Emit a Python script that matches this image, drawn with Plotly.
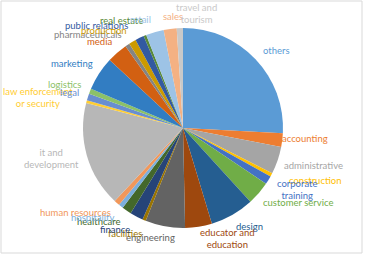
import math
import plotly.graph_objects as go

# ---- data ----
categories = ["others", "accounting", "administrative", "construction", "corporate training",
              "customer service", "design", "educator and education", "engineering", "facilities",
              "finance", "healthcare", "hospitality", "human resources", "it and development",
              "law enforcement or security", "legal", "logistics", "marketing", "media",
              "pharmaceuticals", "production", "public relations", "real estate", "retail",
              "sales", "travel and tourism"]
values = [93, 8, 16, 2, 5, 13.7, 25.6, 15.6, 23.1, 2, 7.7, 5.5, 2.7, 3.3, 61.5,
          1.5, 4, 3, 19.8, 12.1, 2.6, 4.2, 5.1, 1.6, 10.4, 7.6, 3.6]
label_text = ["others", "accounting", "administrative", "construction", "corporate<br>training",
              "customer service", "design", "educator and<br>education", "engineering", "facilities",
              "finance", "healthcare", "hospitality", "human resources", "it and<br>development",
              "law enforcement<br>or security", "legal", "logistics", "marketing", "media",
              "pharmaceuticals", "production", "public relations", "real estate", "retail",
              "sales", "travel and<br>tourism"]

# ---- style ----
colors = ["#5B9BD5", "#ED7D31", "#A5A5A5", "#FFC000", "#4472C4", "#70AD47", "#255E91",
          "#9E480E", "#636363", "#997300", "#264478", "#43682B", "#7CAFDD", "#F1975A",
          "#B7B7B7", "#FFCD33", "#698ED0", "#8CC168", "#327DC2", "#D26012", "#848484",
          "#CC9A00", "#335AA1", "#5A8A39", "#9DC3E6", "#F4B183", "#C9C9C9"]
# label placement: angle (deg clockwise from top) and distance from centre (px)
label_angle = [50.3, 94.7, 105.9, 111.5, 118.2, 122.8, 145.9, 158.2, 196.7, 208.9,
               213.7, 221.8, 225.6, 231.8, 257.1, 281.7, 287.5, 290.4, 300, 315.7,
               314.7, 321.1, 320.1, 330.3, 338.9, 354.9, 6.9]
label_dist = [122.1, 122.4, 135.2, 141.9, 129.3, 136.8, 119.5, 118.5, 114.8, 120,
              122.6, 126, 127.3, 137.4, 134.4, 148, 119.5, 126, 128.1, 120.2,
              133.6, 125.9, 134.2, 123.2, 116.8, 112.4, 115.8]

W, H = 366, 256
CX, CY, R = 183, 128, 100

fig = go.Figure(go.Pie(
    labels=categories, values=values, sort=False, direction="clockwise", rotation=0,
    marker=dict(colors=colors, line=dict(width=0)), textinfo="none", hoverinfo="label+value",
    domain=dict(x=[(CX - R) / W, (CX + R) / W], y=[(H - CY - R) / H, (H - CY + R) / H]),
    showlegend=False,
))

annotations = []
for txt, col, a, d in zip(label_text, colors, label_angle, label_dist):
    px = CX + d * math.sin(math.radians(a))
    py = CY - d * math.cos(math.radians(a))
    annotations.append(dict(x=px / W, y=1 - py / H, xref="paper", yref="paper", text=txt,
                            showarrow=False, xanchor="center", yanchor="middle",
                            font=dict(family="Lato", size=9.5, color=col)))

fig.update_layout(
    width=W, height=H, margin=dict(l=0, r=0, t=0, b=0),
    paper_bgcolor="white", plot_bgcolor="white",
    annotations=annotations,
    shapes=[dict(type="rect", xref="paper", yref="paper", x0=1 / W, y0=1 - 253 / H,
                 x1=362 / W, y1=1 - 1 / H, line=dict(color="#D9D9D9", width=1))],
)
fig.write_html("out.html", config={"displayModeBar": False},
               post_script="document.body.style.margin='0';")
